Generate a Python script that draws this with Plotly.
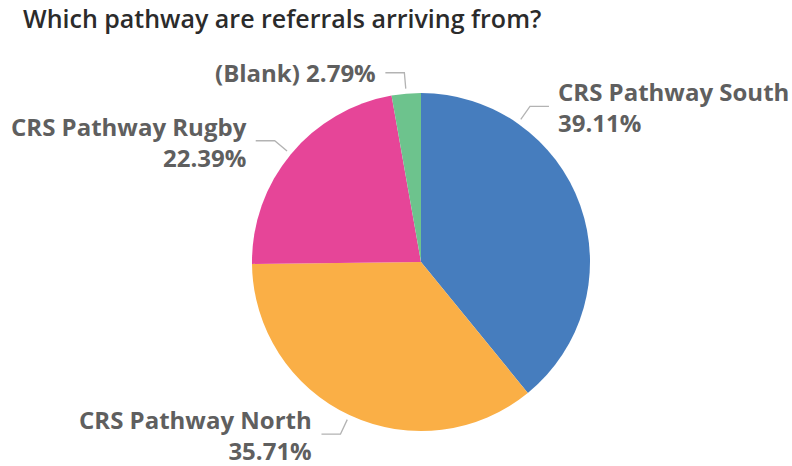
import math
import plotly.graph_objects as go

# ---- data ----
categories = ["CRS Pathway South", "CRS Pathway North", "CRS Pathway Rugby", "(Blank)"]
shares = [39.11, 35.71, 22.39, 2.79]
colors = ["#467DBE", "#FAAF46", "#E64598", "#6DC38D"]
title_text = "Which pathway are referrals arriving from?"

# ---- layout constants ----
W, H = 792, 466
CX, CY, R = 421, 262, 169          # pie centre / radius in pixels (from top-left)
R_START, R_ELBOW, H_LEN, GAP = 174, 190, 19, 7
LABEL_FONT = dict(family="Open Sans, Noto Sans, sans-serif", size=24, color="#5F5F5F", weight="bold")
# Power BI nudged the South leader away from its slice mid-angle
angle_shift = {"CRS Pathway South": -35.4}
single_line = {"(Blank)"}


def px(x, y):
    return x / W, 1 - y / H


fig = go.Figure(go.Pie(
    labels=categories, values=shares, sort=False, direction="clockwise", rotation=0,
    marker=dict(colors=colors, line=dict(width=0)),
    textinfo="none", hoverinfo="skip", showlegend=False,
    domain=dict(x=[(CX - R) / W, (CX + R) / W], y=[(H - CY - R) / H, (H - CY + R) / H]),
))

total = sum(shares)
cum = 0.0
shapes, annotations = [], []
for cat, val in zip(categories, shares):
    mid = (cum + val / 2) / total * 360
    cum += val
    ang = math.radians(mid + angle_shift.get(cat, 0))
    sx, sy = CX + R_START * math.sin(ang), CY - R_START * math.cos(ang)
    ex, ey = CX + R_ELBOW * math.sin(ang), CY - R_ELBOW * math.cos(ang)
    side = 1 if math.sin(ang) >= 0 else -1
    hx = ex + side * H_LEN
    p = [px(sx, sy), px(ex, ey), px(hx, ey)]
    path = "M {} {} L {} {} L {} {}".format(p[0][0], p[0][1], p[1][0], p[1][1], p[2][0], p[2][1])
    shapes.append(dict(type="path", path=path, xref="paper", yref="paper",
                       line=dict(color="#B3B3B3", width=1.3)))
    pct = "{:.2f}%".format(val)
    text = f"{cat} {pct}" if cat in single_line else f"{cat}<br>{pct}"
    tx, ty = px(hx + side * GAP, ey + (0 if cat in single_line else 1))
    annotations.append(dict(
        x=tx, y=ty, xref="paper", yref="paper", text=text, showarrow=False,
        xanchor="left" if side > 0 else "right", yanchor="middle",
        align="left" if side > 0 else "right", font=LABEL_FONT,
    ))

fig.update_layout(
    width=W, height=H, margin=dict(l=0, r=0, t=0, b=0),
    paper_bgcolor="white", plot_bgcolor="white",
    title=dict(text=title_text, x=23 / W, xanchor="left", y=1 - 19 / H, yanchor="middle",
               xref="paper", yref="paper",
               font=dict(family="Open Sans, sans-serif", size=25, color="#2B2B2B", weight=600)),
    shapes=shapes, annotations=annotations,
)

fig.write_html("out.html")
